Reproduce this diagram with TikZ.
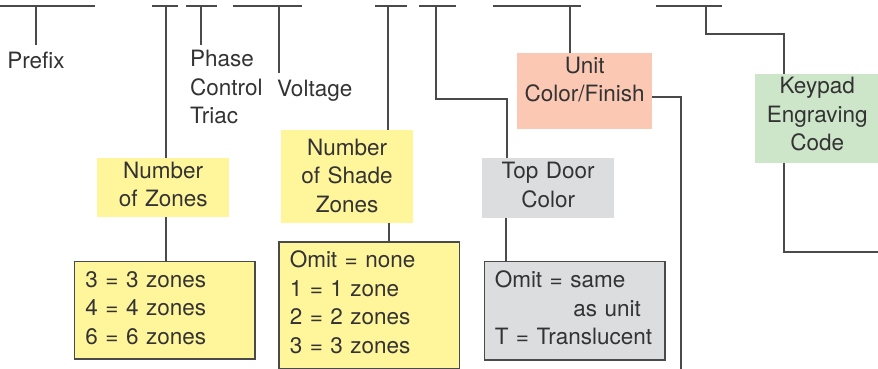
\documentclass[tikz,border=0pt]{standalone}
\usepackage{fontspec}
\setmainfont{TeX Gyre Heros}
\definecolor{txt}{HTML}{333333}
\definecolor{ln}{HTML}{4A4A4A}
\definecolor{yel}{HTML}{FFF59B}
\definecolor{sal}{HTML}{FBC8B4}
\definecolor{grn}{HTML}{CDE6C9}
\definecolor{gry}{HTML}{DCDDDF}
\newcommand{\extradepth}[1]{\rule[-#1]{0pt}{#1}}
\begin{document}
\begin{tikzpicture}[x=1pt,y=-1pt,
  every node/.style={font=\fontsize{22.5}{28.5}\selectfont, text=txt, inner sep=0pt},
  conn/.style={draw=ln, line width=1.5pt},
  lbl/.style={align=left},
  hbox/.style={anchor=north west, align=center, inner sep=0pt},
  obox/.style={anchor=north west, align=left, draw=ln, line width=1.5pt, inner xsep=11pt, inner ysep=0pt},
]
\useasboundingbox (0,0) rectangle (878,369);
% top code segments
\coordinate (s1a) at (0,6);   \coordinate (s1b) at (95,6);  \coordinate (s1c) at (36,6);
\coordinate (s2a) at (152,6); \coordinate (s2b) at (178,6); \coordinate (s2c) at (166,6);
\coordinate (s3a) at (186,6); \coordinate (s3b) at (217,6); \coordinate (s3c) at (201,6);
\coordinate (s4a) at (233,6); \coordinate (s4b) at (302,6); \coordinate (s4c) at (279,6);
\coordinate (s5a) at (375,6); \coordinate (s5b) at (407,6); \coordinate (s5c) at (388,6);
\coordinate (s6a) at (419,6); \coordinate (s6b) at (456,6); \coordinate (s6c) at (436,6);
\coordinate (s7a) at (493,6); \coordinate (s7b) at (581,6); \coordinate (s7c) at (570,6);
\coordinate (s8a) at (656,6); \coordinate (s8b) at (722,6); \coordinate (s8c) at (706,6);
\foreach \i in {1,...,8} {\draw[conn] (s\i a) -- (s\i b);}

% plain labels
\node[anchor=base] (prefix) at (36,69) {Prefix};
\node[lbl, text width=75pt, anchor=base west] (phase) at (190,66.7) {Phase\\Control\\Triac};
\node[anchor=base west] (voltage) at (277,96.7) {Voltage};

% heading boxes
\node[hbox, fill=yel, text width=132pt, minimum height=59pt] (zones) at (97,157.7) {Number\\of Zones\extradepth{6.3pt}};
\node[hbox, fill=yel, text width=131.7pt, minimum height=92.7pt] (shade) at (281,130) {Number\\of Shade\\Zones\extradepth{2pt}};
\node[hbox, fill=gry, text width=132pt, minimum height=60pt] (topdoor) at (482,157.7) {Top Door\\Color\extradepth{6.7pt}};
\node[hbox, fill=sal, text width=135pt, minimum height=75.7pt] (unit) at (517,53) {Unit\\Color/Finish\extradepth{23.6pt}};
\node[hbox, fill=grn, text width=124pt, minimum height=89pt] (keypad) at (755,74) {Keypad\\Engraving\\Code\extradepth{9.8pt}};

% option boxes
\node[obox, fill=yel, text width=158.3pt, minimum height=97.3pt] (zopt) at (73.7,260.7) {3 = 3 zones\\4 = 4 zones\\6 = 6 zones\extradepth{4.3pt}};
\node[obox, fill=yel, text width=158.7pt, minimum height=127pt] (sopt) at (278,241) {Omit = none\\1 = 1 zone\\2 = 2 zones\\3 = 3 zones\extradepth{6.8pt}};
\node[obox, fill=gry, inner xsep=10.3pt, text width=160pt, minimum height=98.3pt] (topt) at (483.7,260.7) {Omit = same\\\hspace*{78.7pt}as unit\\T = Translucent\extradepth{6pt}};

% connectors
\draw[conn, shorten >=7pt] (s1c) -- (prefix.north);
\draw[conn, shorten >=5pt] (s3c) -- (s3c |- phase.north);
\draw[conn, shorten >=7pt] (s4c) -- (s4c |- voltage.north);
\draw[conn] (s2c) -- (s2c |- zones.north);
\draw[conn] (zones.south -| s2c) -- (zopt.north -| s2c);
\draw[conn] (s5c) -- (s5c |- shade.north);
\coordinate (k5) at (389,0);
\draw[conn] (shade.south -| k5) -- (sopt.north -| k5);
\coordinate (k6) at (507,99);
\draw[conn] (s6c) |- (k6) -- (k6 |- topdoor.north);
\coordinate (k6b) at (506,0);
\draw[conn] (topdoor.south -| k6b) -- (topt.north -| k6b);
\draw[conn] (s7c) -- (s7c |- unit.north);
\coordinate (uend) at (681,369);
\draw[conn] ([yshift=-6pt]unit.east) -| (uend);
\coordinate (k8) at (784,34);
\draw[conn] (s8c) |- (k8) -- (k8 |- keypad.north);
\coordinate (kend) at (878,252);
\draw[conn] (keypad.south -| k8) |- (kend);
\end{tikzpicture}
\end{document}
